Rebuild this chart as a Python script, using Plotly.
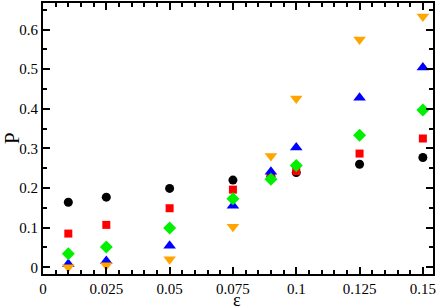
import plotly.graph_objects as go

eps = [0.01, 0.025, 0.05, 0.075, 0.09, 0.1, 0.125, 0.15]
p_black = [0.164, 0.177, 0.199, 0.220, 0.230, 0.239, 0.260, 0.277]
p_red = [0.085, 0.107, 0.149, 0.196, 0.226, 0.243, 0.287, 0.325]
p_blue = [0.008, 0.016, 0.054, 0.155, 0.241, 0.302, 0.428, 0.504]
p_green = [0.034, 0.051, 0.099, 0.173, 0.222, 0.257, 0.333, 0.397]
p_orange = [0.0, 0.005, 0.020, 0.102, 0.281, 0.426, 0.575, 0.633]

x_ticks = [0, 0.025, 0.05, 0.075, 0.1, 0.125, 0.15]
x_labels = ["0", "0.025", "0.05", "0.075", "0.1", "0.125", "0.15"]
y_ticks = [0, 0.1, 0.2, 0.3, 0.4, 0.5, 0.6]
y_labels = ["0", "0.1", "0.2", "0.3", "0.4", "0.5", "0.6"]

series = [
    (p_black, "black", "circle", 9),
    (p_red, "#ff0000", "square", 8),
    (p_blue, "#0000ff", "triangle-up", 11),
    (p_green, "#00f000", "diamond", 10),
    (p_orange, "#ffa500", "triangle-down", 11),
]

fig = go.Figure()
for ys, col, sym, sz in series:
    fig.add_trace(go.Scatter(x=eps, y=ys, mode="markers",
                             marker=dict(color=col, symbol=sym, size=sz,
                                         line=dict(width=0))))

axis_common = dict(
    showgrid=False, zeroline=False, showline=True, linecolor="black", linewidth=2,
    mirror="allticks", ticks="inside", ticklen=7, tickwidth=2, tickcolor="black",
    tickfont=dict(family="Liberation Serif", size=15, color="black"),
    automargin=False,
)

plot_h = 307 - 3 - 33
plot_w = 436 - 43 - 3

fig.update_layout(
    width=436, height=307,
    margin=dict(l=43, r=3, t=3, b=33),
    paper_bgcolor="white", plot_bgcolor="white",
    showlegend=False,
    xaxis=dict(range=[0, 0.154], tickvals=x_ticks, ticktext=x_labels,
               minor=dict(dtick=0.005, tick0=0, ticks="inside", ticklen=4, tickwidth=1.5, tickcolor="black"),
               **axis_common),
    yaxis=dict(range=[-0.017, 0.667], tickvals=y_ticks, ticktext=y_labels,
               minor=dict(dtick=0.05, tick0=0, ticks="inside", ticklen=4, tickwidth=1.5, tickcolor="black"),
               **axis_common),
    annotations=[
        dict(text="ε", x=(237 - 43) / plot_w, xref="paper", xanchor="center",
             y=-(300 - 274) / plot_h, yref="paper", yanchor="middle", showarrow=False,
             font=dict(family="Liberation Serif", size=18, color="black")),
        dict(text="P", x=-(43 - 12) / plot_w, xref="paper", xanchor="center",
             y=(274 - 138) / plot_h, yref="paper", yanchor="middle", showarrow=False,
             font=dict(family="Liberation Serif", size=21, color="black"),
             textangle=-90),
    ],
)

fig.write_html("out.html", config={"displayModeBar": False})
with open("out.html", "r", encoding="utf-8") as f:
    html = f.read()
html = html.replace("<body>", '<body style="margin:0;overflow:hidden">', 1)
with open("out.html", "w", encoding="utf-8") as f:
    f.write(html)
